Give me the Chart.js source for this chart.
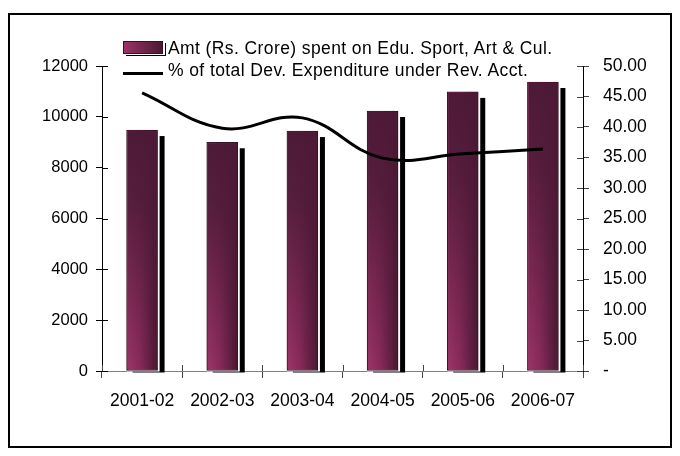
<!DOCTYPE html>
<html>
<head>
<meta charset="utf-8">
<script src="https://cdn.jsdelivr.net/npm/chart.js@4.4.1/dist/chart.umd.min.js"></script>
<style>
  html, body { margin: 0; padding: 0; background: #fff; }
  #wrap { position: relative; width: 680px; height: 456px; }
  #frame { position: absolute; left: 8px; top: 13px; width: 660px; height: 431px; border: 2px solid #000; pointer-events: none; }
  .legtext { position: absolute; left: 168px; font-family: 'Liberation Sans', Arial, sans-serif; font-size: 17.5px; line-height: 1; letter-spacing: 0.4px; color: #000; white-space: nowrap; }
  #swatchBar { position: absolute; left: 123px; top: 41px; width: 38px; height: 11px; border: 1px solid #3a1026; background: linear-gradient(to right, #9c3366, #4a1a32); box-shadow: 2px 1px 0 #fff, 3px 2px 0 #000; }
  #swatchLine { position: absolute; left: 123px; top: 72px; width: 40px; height: 3px; background: #000; }
</style>
</head>
<body>
<div id="wrap">
  <canvas id="eduChart" width="680" height="456"></canvas>
  <div id="frame"></div>
  <div id="swatchBar"></div>
  <div class="legtext" id="leg1" style="top:40px"></div>
  <div id="swatchLine"></div>
  <div class="legtext" id="leg2" style="top:62px"></div>
</div>
<script>
// chart data
const categories = ['2001-02', '2002-03', '2003-04', '2004-05', '2005-06', '2006-07'];
const amountSpent = [9480, 9000, 9440, 10230, 10980, 11370];     // Rs. Crore
const pctOfDevExp = [45.6, 39.8, 41.5, 34.9, 35.6, 36.4];        // % of total Dev. Expenditure
const leftTickValues = [0, 2000, 4000, 6000, 8000, 10000, 12000];
const rightTickValues = [0, 5, 10, 15, 20, 25, 30, 35, 40, 45, 50];
const barLabel = 'Amt (Rs. Crore) spent on Edu. Sport, Art & Cul.';
const lineLabel = '% of total Dev. Expenditure under Rev. Acct.';

document.getElementById('leg1').textContent = barLabel;
document.getElementById('leg2').textContent = lineLabel;

const fontFamily = "'Liberation Sans', Arial, sans-serif";
const BAR_W = 31;

// horizontal gradient for each bar, pink on the left to dark on the right
function barFill(c) {
  const chart = c.chart;
  if (!chart.chartArea || !chart.scales.x) return '#6a2248';
  const cx = chart.scales.x.getPixelForValue(c.dataIndex);
  const g = chart.ctx.createLinearGradient(cx - BAR_W / 2, 0, cx + BAR_W / 2, 0);
  g.addColorStop(0, '#9e3568');
  g.addColorStop(0.45, '#86295a');
  g.addColorStop(1, '#471830');
  return g;
}

// black drop shadow + white edge behind the bars, darker top over them
const barShadow = {
  id: 'barShadow',
  beforeDatasetDraw(chart, args) {
    if (args.meta.type !== 'bar') return;
    const ctx = chart.ctx;
    args.meta.data.forEach(bar => {
      const { x, y, base, width } = bar.getProps(['x', 'y', 'base', 'width'], true);
      const l = x - width / 2;
      ctx.save();
      ctx.fillStyle = '#000';
      ctx.fillRect(l + 6, y + 6, width + 1, base - y - 4);
      ctx.fillStyle = '#fff';
      ctx.fillRect(l, y, width + 2, base - y + 1);
      ctx.restore();
    });
  },
  afterDatasetDraw(chart, args) {
    if (args.meta.type !== 'bar') return;
    const ctx = chart.ctx;
    args.meta.data.forEach(bar => {
      const { x, y, base, width } = bar.getProps(['x', 'y', 'base', 'width'], true);
      const l = x - width / 2 + 1;
      const g = ctx.createLinearGradient(0, y, 0, base);
      g.addColorStop(0, 'rgba(76,26,54,1)');
      g.addColorStop(0.3, 'rgba(76,26,54,0.85)');
      g.addColorStop(1, 'rgba(76,26,54,0)');
      ctx.save();
      ctx.fillStyle = g;
      ctx.fillRect(l, y + 1, width - 2, base - y - 1);
      ctx.restore();
    });
  }
};

// tick marks that cross the axis lines (chart.js only draws the outer half)
const crossTicks = {
  id: 'crossTicks',
  beforeDatasetsDraw(chart) {
    const ctx = chart.ctx;
    const { y, y1 } = chart.scales;
    const area = chart.chartArea;
    ctx.save();
    ctx.lineWidth = 1;
    ctx.strokeStyle = '#000';
    y.ticks.forEach(t => {
      const py = Math.round(y.getPixelForValue(t.value)) + 0.5;
      ctx.beginPath(); ctx.moveTo(area.left, py); ctx.lineTo(area.left + 6, py); ctx.stroke();
    });
    ctx.strokeStyle = '#444';
    y1.ticks.forEach(t => {
      const py = Math.round(y1.getPixelForValue(t.value)) + 0.5;
      ctx.beginPath(); ctx.moveTo(area.right - 6, py); ctx.lineTo(area.right, py); ctx.stroke();
    });
    for (let i = 0; i <= categories.length; i++) {
      const px = Math.round(area.left + (area.right - area.left) * i / categories.length) + 0.5;
      ctx.beginPath(); ctx.moveTo(px, area.bottom - 6); ctx.lineTo(px, area.bottom); ctx.stroke();
    }
    ctx.restore();
  }
};

new Chart(document.getElementById('eduChart'), {
  data: {
    labels: categories,
    datasets: [
      {
        type: 'line',
        label: lineLabel,
        data: pctOfDevExp,
        yAxisID: 'y1',
        borderColor: '#000',
        borderWidth: 3,
        tension: 0.4,
        pointRadius: 0,
        fill: false,
        order: 0
      },
      {
        type: 'bar',
        label: barLabel,
        data: amountSpent,
        yAxisID: 'y',
        backgroundColor: barFill,
        borderColor: '#3a1026',
        borderWidth: 1,
        borderSkipped: false,
        barThickness: BAR_W,
        order: 1
      }
    ]
  },
  options: {
    responsive: false,
    animation: false,
    layout: { padding: { top: 66, left: 0, right: 0, bottom: 0 } },
    plugins: { legend: { display: false }, tooltip: { enabled: false } },
    scales: {
      x: {
        offset: true,
        grid: { offset: true, drawOnChartArea: false, tickLength: 7, color: '#444' },
        border: { color: '#808080', width: 1 },
        ticks: { color: '#000', font: { family: fontFamily, size: 17.5 }, padding: 13, maxRotation: 0 },
        afterFit(s) { s.height = 85; }
      },
      y: {
        position: 'left',
        min: 0,
        max: 12000,
        afterBuildTicks(s) { s.ticks = leftTickValues.map(v => ({ value: v })); },
        grid: { drawOnChartArea: false, tickLength: 6, color: '#000' },
        border: { color: '#000', width: 1 },
        ticks: { color: '#000', font: { family: fontFamily, size: 16.5 }, padding: 8, callback: v => String(v) },
        afterFit(s) { s.width = 102; }
      },
      y1: {
        position: 'right',
        min: 0,
        max: 50,
        afterBuildTicks(s) { s.ticks = rightTickValues.map(v => ({ value: v })); },
        grid: { drawOnChartArea: false, tickLength: 6, color: '#444' },
        border: { color: '#000', width: 1 },
        ticks: {
          color: '#000',
          font: { family: fontFamily, size: 17.5 },
          padding: 14,
          callback: v => (v === 0 ? '-' : v.toFixed(2))
        },
        afterFit(s) { s.width = 97; }
      }
    }
  },
  plugins: [barShadow, crossTicks]
});
</script>
</body>
</html>
